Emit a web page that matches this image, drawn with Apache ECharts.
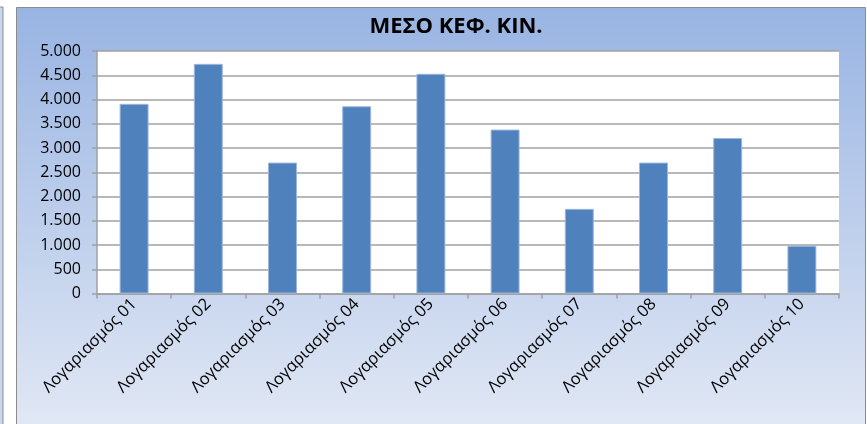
<!DOCTYPE html>
<html><head><meta charset="utf-8">
<script src="https://cdn.jsdelivr.net/npm/echarts@6/dist/echarts.min.js"></script>
<style>html,body{margin:0;padding:0;background:#fff}#c{width:867px;height:424px}</style>
</head><body><div id="c"></div>
<script>
const categories = ['Λογαριασμός 01','Λογαριασμός 02','Λογαριασμός 03','Λογαριασμός 04','Λογαριασμός 05','Λογαριασμός 06','Λογαριασμός 07','Λογαριασμός 08','Λογαριασμός 09','Λογαριασμός 10'];
const values = [3910, 4735, 2700, 3860, 4530, 3380, 1745, 2700, 3205, 985];
const titleText = 'ΜΕΣΟ ΚΕΦ. ΚΙΝ.';
const yMin = 0, yMax = 5000, yStep = 500;

const FONT = 'Open Sans';
const chart = echarts.init(document.getElementById('c'), null, {renderer:'canvas'});
const bgGrad = new echarts.graphic.LinearGradient(0,0,0,1,[{offset:0,color:'#98B4E2'},{offset:1,color:'#E3E9F5'}]);
chart.setOption({
  animation:false,
  backgroundColor:'#ffffff',
  graphic:[
    {type:'rect', z:-10, shape:{x:-10,y:7,width:13,height:430}, style:{fill:'#C9D6EE', stroke:'#8C8C8C', lineWidth:1}},
    {type:'rect', z:-10, shape:{x:16.5,y:7.5,width:849,height:430}, style:{fill:bgGrad, stroke:'#8C8C8C', lineWidth:1}},
    {type:'rect', z:-9, shape:{x:97,y:51,width:742,height:243}, style:{fill:'#ffffff'}},
    {type:'text', z:10, x:456, y:27, style:{text:titleText, font:'bold 22px "'+FONT+'"', fill:'#000', align:'center', verticalAlign:'middle'}}
  ],
  grid:{left:97, right:28, top:51, bottom:130.5, containLabel:false, outerBoundsMode:'none'},
  xAxis:{
    type:'category', data:categories,
    axisLine:{lineStyle:{color:'#A0A0A0', width:1.5}},
    axisTick:{show:true, length:5, lineStyle:{color:'#A0A0A0', width:1.5}},
    axisLabel:{rotate:45, margin:8, color:'#000', fontFamily:FONT, fontSize:16.5, interval:0}
  },
  yAxis:{
    type:'value', min:yMin, max:yMax, interval:yStep,
    axisLine:{show:true, lineStyle:{color:'#A0A0A0', width:1.5}},
    axisTick:{show:true, inside:false, length:5, lineStyle:{color:'#A0A0A0', width:1.5}},
    splitLine:{lineStyle:{color:'#A0A0A0', width:1.5}},
    axisLabel:{margin:16, color:'#000', fontFamily:FONT, fontSize:16,
      formatter:v=>String(v).replace(/\B(?=(\d{3})+(?!\d))/g,'.')}
  },
  series:[{type:'bar', data:values, barWidth:'39%',
    itemStyle:{color:'#4F81BD', borderColor:'#9DB5DE', borderWidth:1}}]
});
</script></body></html>
